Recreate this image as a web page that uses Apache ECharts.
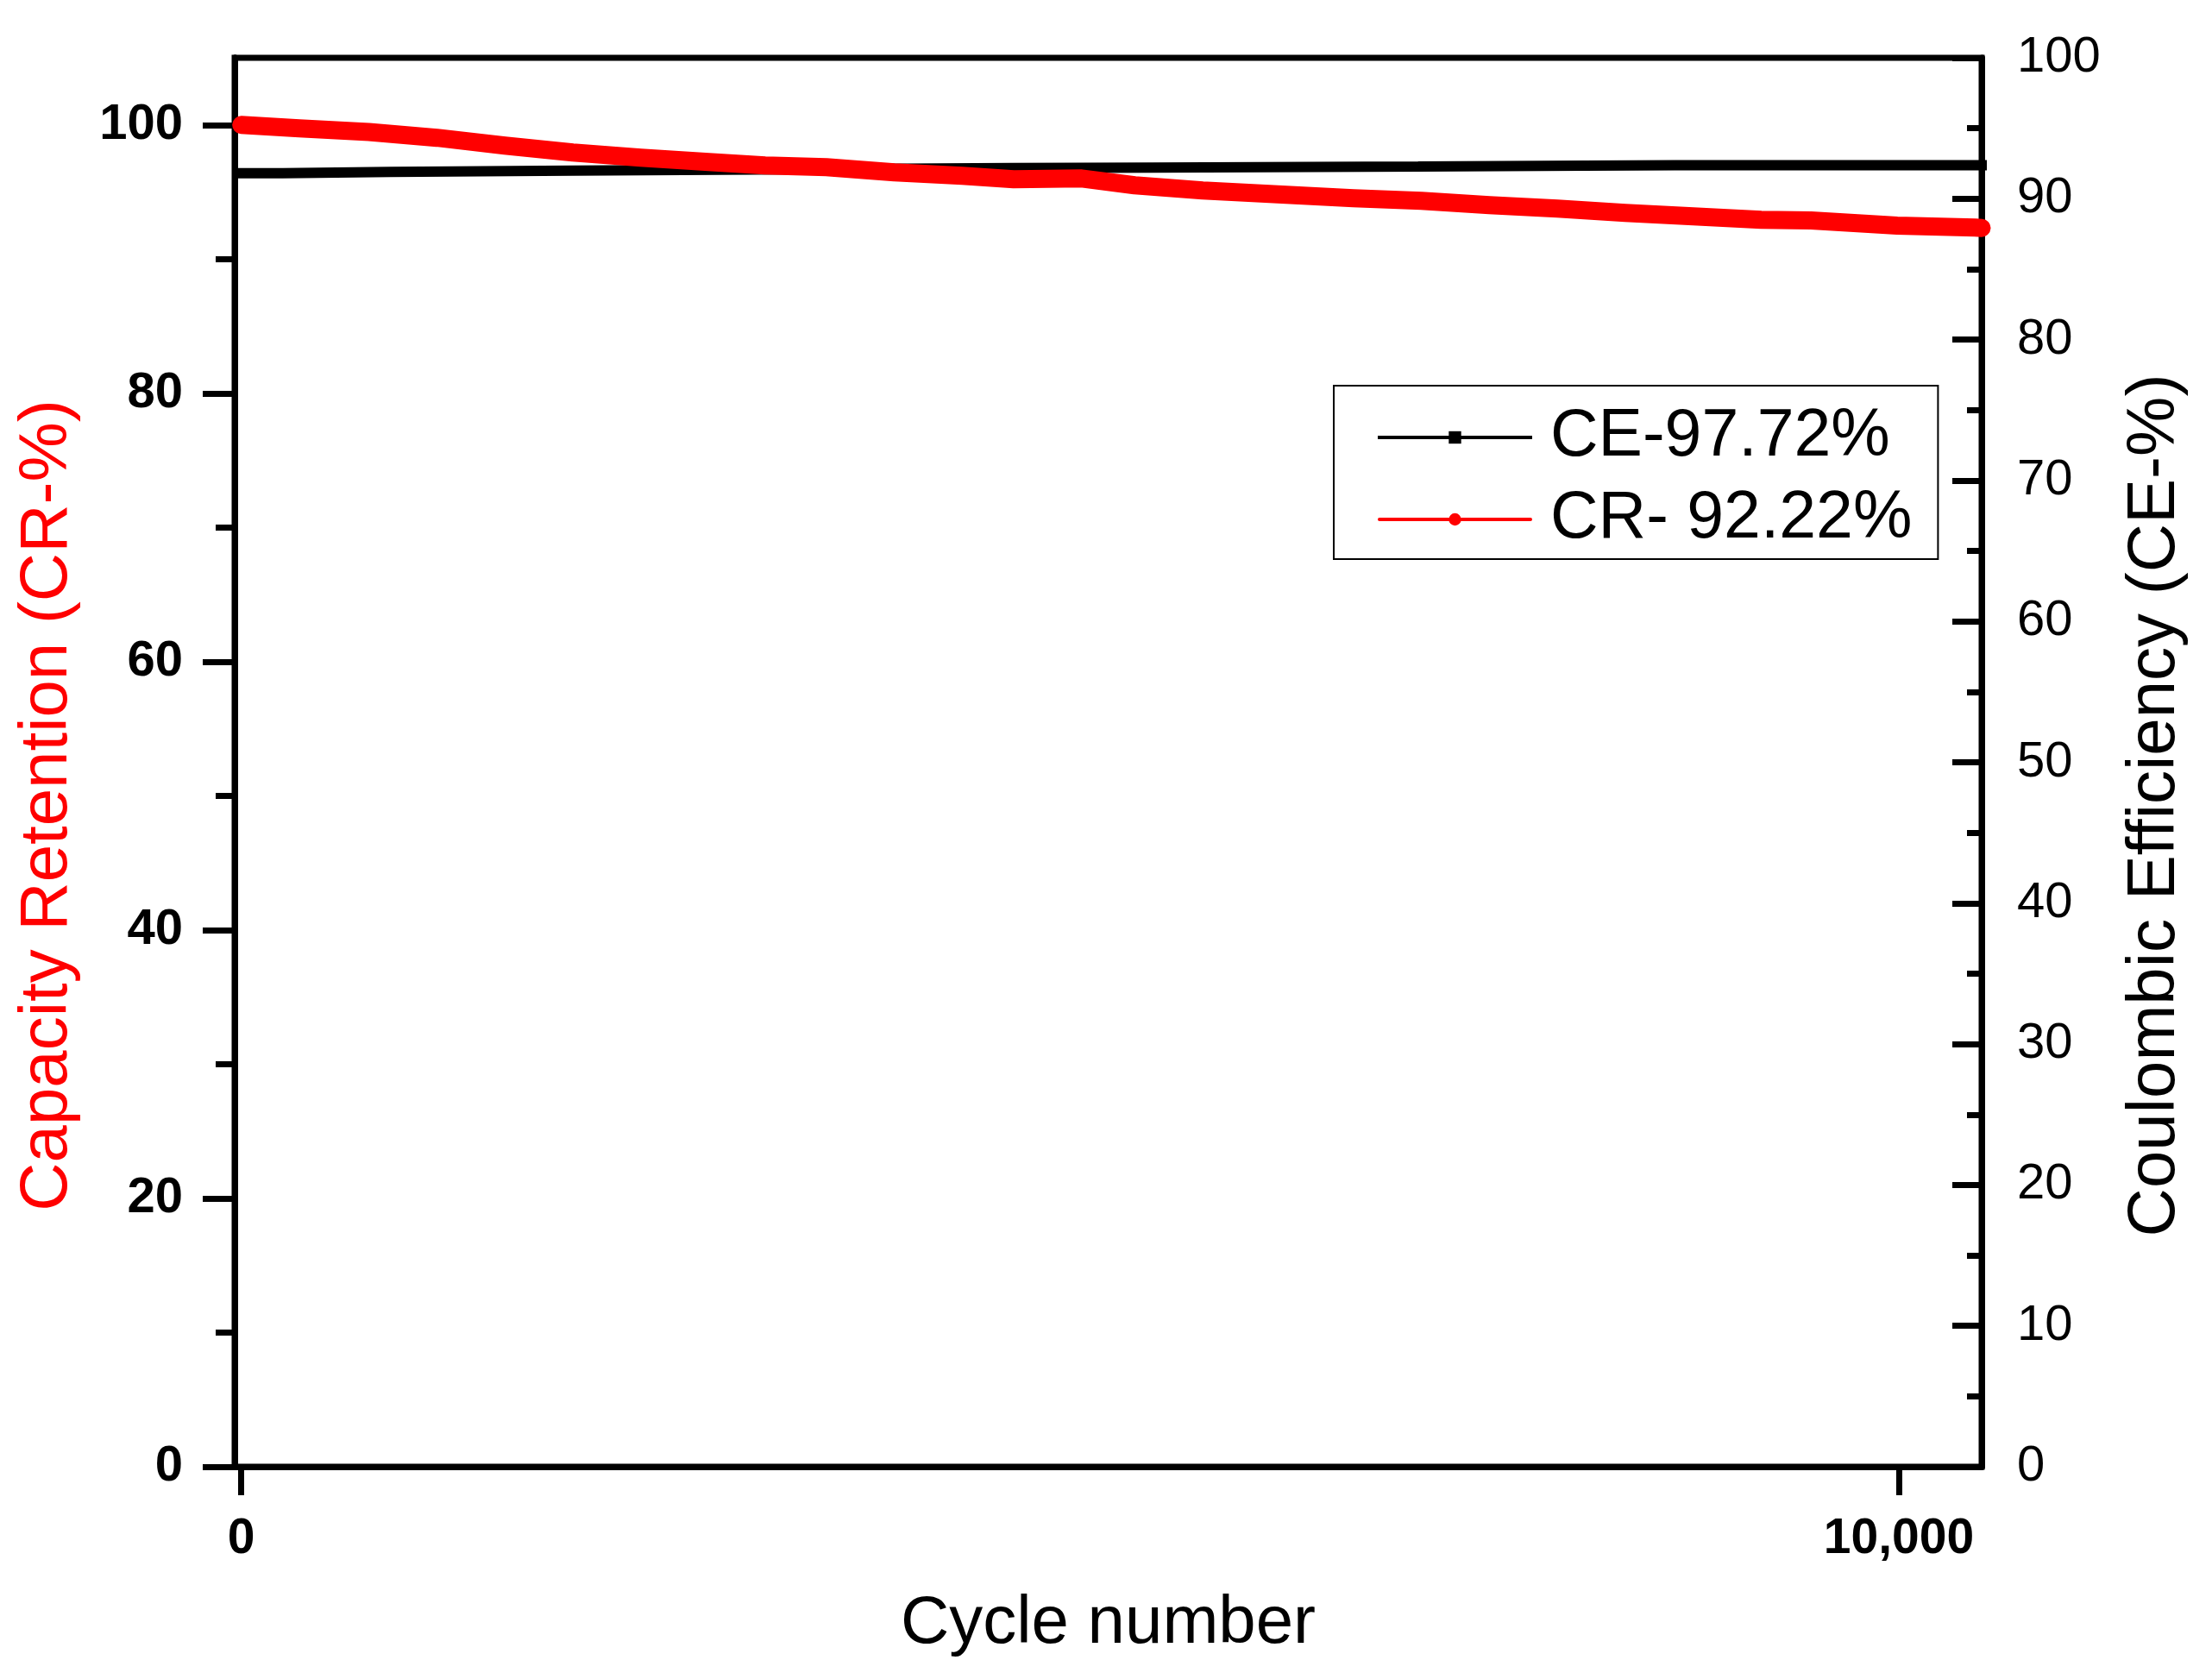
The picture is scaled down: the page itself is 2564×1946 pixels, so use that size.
<!DOCTYPE html>
<html>
<head>
<meta charset="utf-8">
<script src="https://cdn.jsdelivr.net/npm/echarts@6/dist/echarts.min.js"></script>
<style>
  html, body { margin: 0; padding: 0; background: #fff; }
  #chart { width: 2564px; height: 1946px; }
</style>
</head>
<body>
<div id="chart"></div>
<script>
// ---- data ----
const crCycles = [0, 350, 770, 1180, 1590, 2000, 2410, 2820, 3160, 3530, 3940, 4350, 4660, 5070, 5390, 5800, 6330, 6710, 7120, 7530, 7940, 8350, 8760, 9170, 9470, 9990, 10460, 10500];
const crValues = [100.0, 99.74, 99.47, 99.04, 98.46, 97.94, 97.56, 97.23, 96.98, 96.85, 96.46, 96.21, 95.95, 96.01, 95.50, 95.11, 94.78, 94.53, 94.34, 94.02, 93.76, 93.44, 93.18, 92.93, 92.88, 92.50, 92.35, 92.32];
const ceCycles = [0, 250, 900, 2000, 4650, 5500, 7100, 8100, 8650, 10500];
const ceValues = [96.40, 96.40, 96.50, 96.60, 96.78, 96.82, 96.90, 96.97, 97.00, 97.00];
const seriesNames = ['CE-97.72%', 'CR- 92.22%'];
const xTickValues = [0, 10000];
const leftMajorTicks = [0, 20, 40, 60, 80, 100];
const leftMinorTicks = [10, 30, 50, 70, 90];

const FONT = 'Liberation Sans, Arial, sans-serif';
const AXW = 7;

const chart = echarts.init(document.getElementById('chart'), null, { renderer: 'canvas' });
chart.setOption({
  animation: false,
  backgroundColor: '#ffffff',
  grid: {
    left: 272, right: 267, top: 67, bottom: 246,
    show: true, borderColor: '#000', borderWidth: AXW, backgroundColor: 'transparent'
  },
  legend: {
    orient: 'vertical',
    left: 1546, top: 447,
    padding: [20, 30, 6, 51],
    borderColor: '#000', borderWidth: 2,
    itemWidth: 175, itemHeight: 18, itemGap: 15,
    textStyle: { fontSize: 77, fontFamily: FONT, color: '#000', lineHeight: 80, padding: [0, 0, 0, 18] },
    lineStyle: { width: 4 },
    data: seriesNames
  },
  xAxis: {
    type: 'value', min: -40, max: 10500,
    name: 'Cycle number', nameLocation: 'middle', nameGap: 143,
    nameTextStyle: { fontSize: 78, fontFamily: FONT, color: '#000' },
    axisLine: { show: true, onZero: false, lineStyle: { color: '#000', width: AXW } },
    axisTick: { show: true, inside: false, length: 33, customValues: xTickValues, lineStyle: { color: '#000', width: AXW } },
    axisLabel: {
      customValues: xTickValues, margin: 56,
      fontSize: 57, fontWeight: 'bold', fontFamily: FONT, color: '#000',
      formatter: v => Number(v).toLocaleString('en-US')
    },
    splitLine: { show: false }
  },
  yAxis: [
    {
      type: 'value', min: 0, max: 105, position: 'left',
      name: 'Capacity Retention (CR-%)', nameLocation: 'middle', nameGap: 178, nameRotate: 90,
      nameTextStyle: { fontSize: 78, fontFamily: FONT, color: '#ff0000', padding: [0, 100, 0, 0] },
      axisLine: { show: true, onZero: false, lineStyle: { color: '#000', width: AXW } },
      axisTick: { show: true, inside: false, length: 37, customValues: leftMajorTicks, lineStyle: { color: '#000', width: AXW } },
      axisLabel: { customValues: leftMajorTicks, margin: 60, fontSize: 58, fontWeight: 'bold', fontFamily: FONT, color: '#000' },
      splitLine: { show: false }
    },
    {
      type: 'value', min: 0, max: 100, interval: 10, position: 'right',
      name: 'Coulombic Efficiency (CE-%)', nameLocation: 'middle', nameGap: 162, nameRotate: 90,
      nameTextStyle: { fontSize: 78, fontFamily: FONT, color: '#000', padding: [0, 100, 0, 0] },
      axisLine: { show: true, onZero: false, lineStyle: { color: '#000', width: AXW } },
      axisTick: { show: true, inside: true, length: 34, lineStyle: { color: '#000', width: AXW } },
      minorTick: { show: true, splitNumber: 2, length: 17, lineStyle: { color: '#000', width: AXW } },
      axisLabel: { margin: 41, fontSize: 58, fontFamily: FONT, color: '#000' },
      splitLine: { show: false }, minorSplitLine: { show: false }
    },
    {
      type: 'value', min: 0, max: 105, position: 'left',
      axisLine: { show: true, onZero: false, lineStyle: { color: '#000', width: AXW } },
      axisTick: { show: true, inside: false, length: 22, customValues: leftMinorTicks, lineStyle: { color: '#000', width: AXW } },
      axisLabel: { show: false },
      splitLine: { show: false }
    }
  ],
  series: [
    {
      name: seriesNames[0], type: 'line', yAxisIndex: 0,
      data: ceCycles.map((c, i) => [c, ceValues[i]]),
      symbol: 'rect', showSymbol: false,
      itemStyle: { color: '#000' },
      lineStyle: { color: '#000', width: 12, cap: 'square' }
    },
    {
      name: seriesNames[1], type: 'line', yAxisIndex: 0,
      data: crCycles.map((c, i) => [c, crValues[i]]),
      symbol: 'circle', showSymbol: false,
      itemStyle: { color: '#ff0000' },
      lineStyle: { color: '#ff0000', width: 21, cap: 'round', join: 'round' }
    }
  ]
});
</script>
</body>
</html>
